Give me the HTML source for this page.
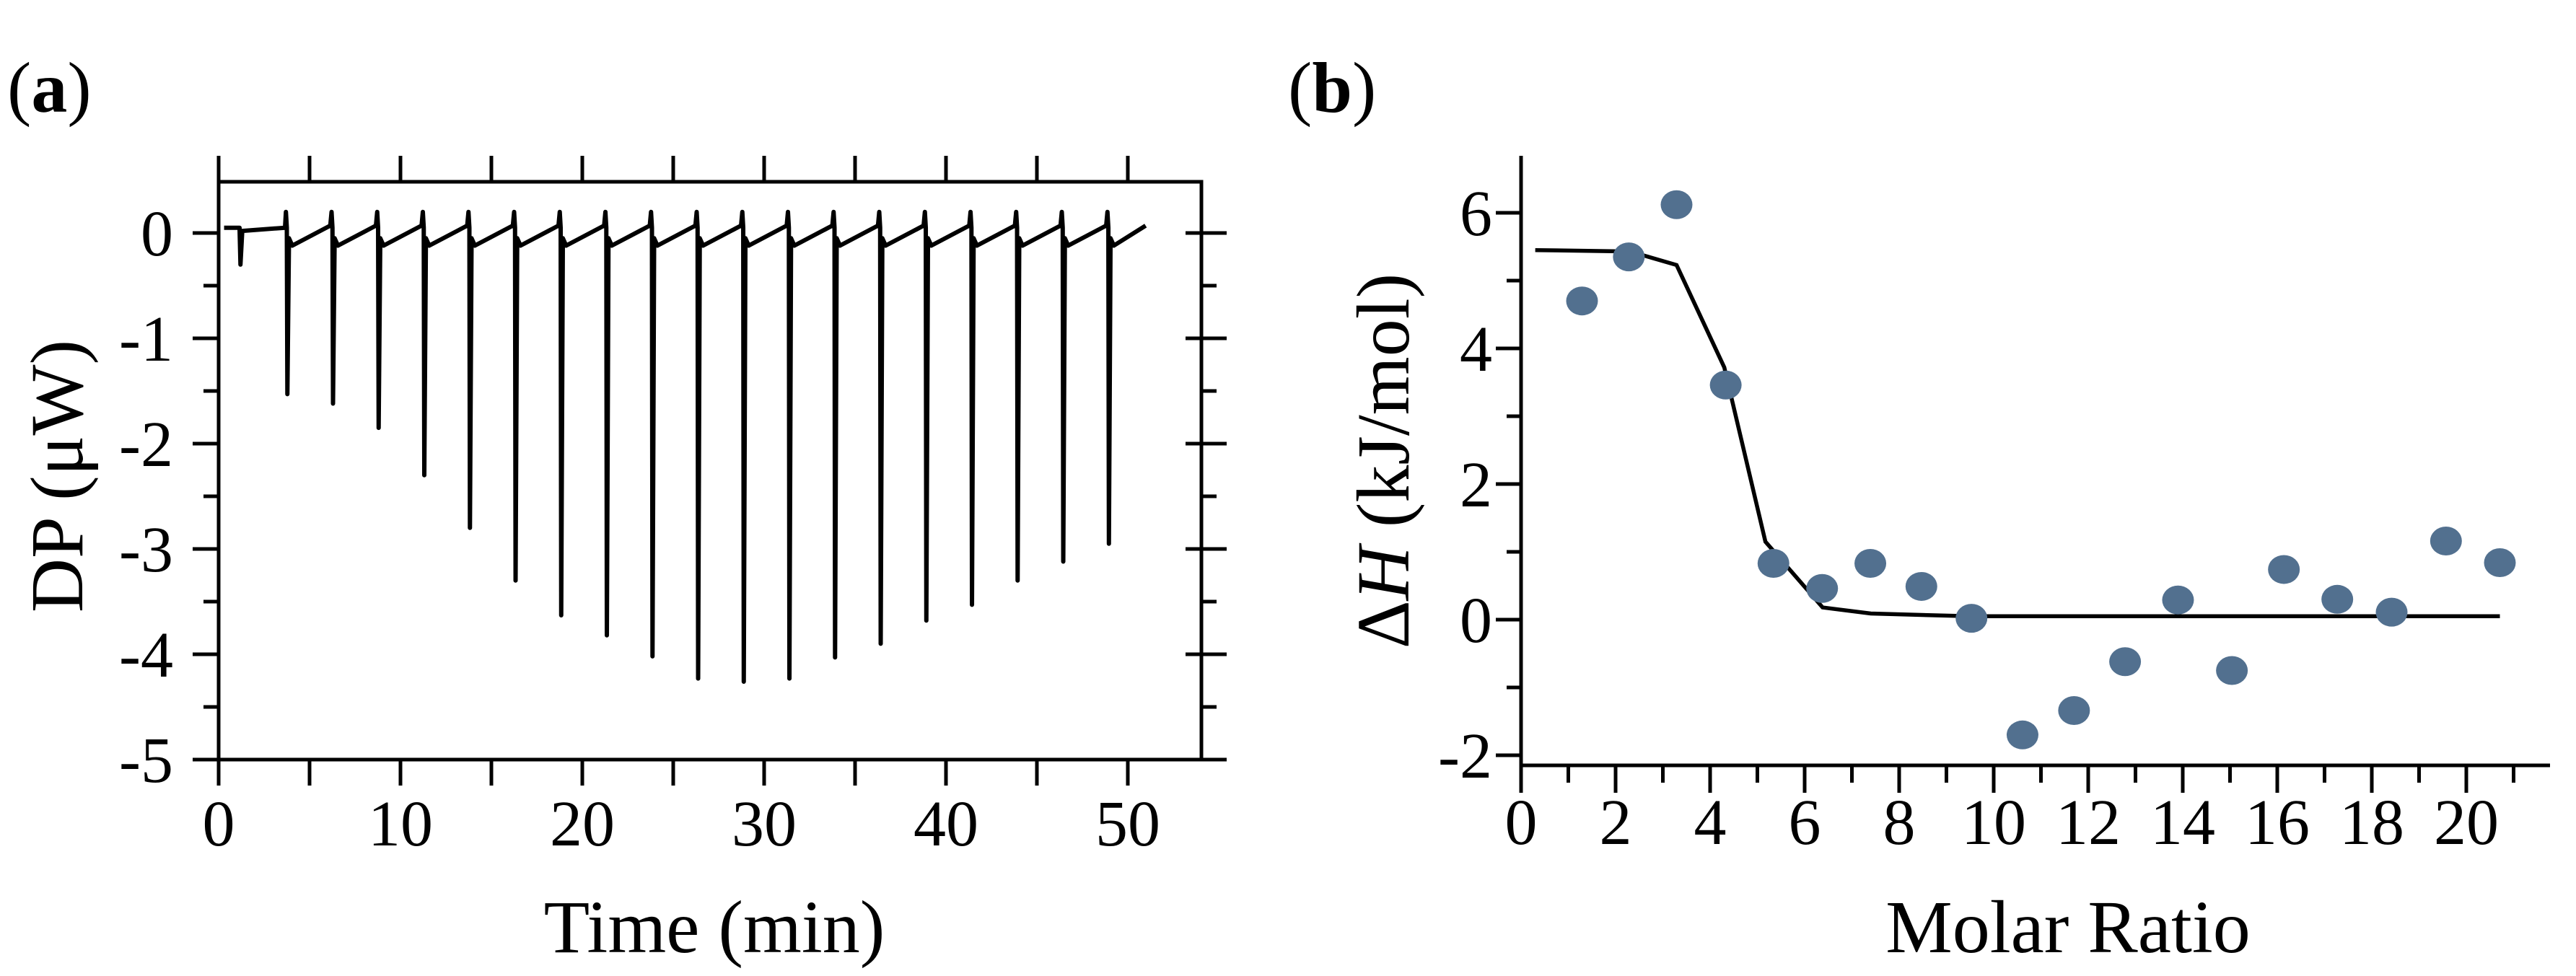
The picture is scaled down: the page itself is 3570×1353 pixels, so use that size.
<!DOCTYPE html>
<html><head><meta charset="utf-8"><style>
html,body{margin:0;padding:0;background:#fff;}
svg{display:block;font-family:"Liberation Serif",serif;}
</style></head><body>
<svg id="chart" width="3570" height="1353" viewBox="0 0 3570 1353" xmlns="http://www.w3.org/2000/svg">
<text x="10" y="155" font-size="100">(<tspan font-weight="bold">a</tspan>)</text>
<text x="1785" y="155" font-size="100">(<tspan font-weight="bold">b</tspan>)</text>
<g id="pa"></g>
<g id="pb"></g>
</svg>
<script>
// Panel a data
const injTimes = [3.75,6.26,8.77,11.28,13.79,16.3,18.81,21.32,23.83,26.34,28.85,31.36,33.87,36.38,38.89,41.4,43.91,46.42,48.93];
const injPeaks = [-1.53,-1.62,-1.85,-2.3,-2.8,-3.3,-3.63,-3.82,-4.02,-4.23,-4.26,-4.23,-4.03,-3.9,-3.68,-3.53,-3.3,-3.12,-2.95];
const firstInjTime = 1.2, firstInjPeak = -0.3, endTime = 51.1;
const aXTicks = [0,10,20,30,40,50];
const aYTicks = [0,-1,-2,-3,-4,-5];
// Panel b data
const molarRatio = [1.29,2.28,3.29,4.33,5.34,6.37,7.39,8.47,9.53,10.61,11.70,12.78,13.90,15.04,16.14,17.27,18.42,19.57,20.71];
const deltaH = [4.70,5.35,6.12,3.46,0.83,0.46,0.83,0.49,0.02,-1.70,-1.34,-0.62,0.29,-0.75,0.74,0.30,0.11,1.16,0.84];
const fitX = [0.3,2.3,3.29,4.3,5.17,6.38,7.4,9.5,20.71];
const fitY = [5.45,5.43,5.23,3.72,1.15,0.18,0.09,0.05,0.05];
const bXTicks = [0,2,4,6,8,10,12,14,16,18,20];
const bYTicks = [6,4,2,0,-2];

const NS="http://www.w3.org/2000/svg";
function mk(parent,tag,attrs,text){const e=document.createElementNS(NS,tag);for(const k in attrs)e.setAttribute(k,attrs[k]);if(text!==undefined)e.textContent=text;parent.appendChild(e);return e;}

// ---- Panel A ----
const pa=document.getElementById('pa');
const ax=t=>303+t*25.2, ay=v=>323-v*146;
const L=303,R=1665,T=252,B=1053;
let e=mk(pa,'rect',{x:L,y:T,width:R-L,height:B-T,fill:'none',stroke:'#000','stroke-width':5});


for(let t=0;t<=54;t+=5){
  e=mk(pa,'line',{x1:ax(t),x2:ax(t),y1:T,y2:T-36,stroke:'#000','stroke-width':5});
  
  
  e=mk(pa,'line',{x1:ax(t),x2:ax(t),y1:B,y2:B+36,stroke:'#000','stroke-width':5});
  
  
}
aXTicks.forEach(t=>{
  e=mk(pa,'text',{x:ax(t),y:1172,'font-size':90,'text-anchor':'middle'},String(t));
  
  
});
for(let v=0;v>=-5;v-=0.5){
  const maj=Math.abs(v%1)<1e-9;
  e=mk(pa,'line',{x1:R-(maj?22:0),x2:R+(maj?35:21),y1:ay(v),y2:ay(v),stroke:'#000','stroke-width':5});
  
  
  e=mk(pa,'line',{x1:L-(maj?36:21),x2:L,y1:ay(v),y2:ay(v),stroke:'#000','stroke-width':5});
  
  
}
aYTicks.forEach(v=>{
  e=mk(pa,'text',{x:240,y:ay(v)+31,'font-size':90,'text-anchor':'end'},String(v));
  
  
});
// trace
let d=`M${ax(0.3)},${ay(0.05)} L${ax(firstInjTime-0.05)},${ay(0.05)} L${ax(firstInjTime)},${ay(firstInjPeak)} L${ax(firstInjTime+0.1)},${ay(0.02)} L${ax(injTimes[0]-0.1)},${ay(0.05)}`;
injTimes.forEach((t,i)=>{
  const next=i<injTimes.length-1?injTimes[i+1]:endTime;
  d+=` L${ax(t-0.05)},${ay(0.2)} L${ax(t)},${ay(0.05)} L${ax(t+0.03)},${ay(injPeaks[i])} L${ax(t+0.12)},${ay(-0.05)} L${ax(t+0.3)},${ay(-0.12)} L${ax(next-0.12)},${ay(0.07)}`;
});
e=mk(pa,'path',{d:d,fill:'none',stroke:'#000','stroke-width':6,'stroke-linejoin':'round'});


e=mk(pa,'text',{x:990,y:1320,'font-size':104,'text-anchor':'middle'},'Time (min)');


e=mk(pa,'text',{x:0,y:0,'font-size':104,'text-anchor':'middle',transform:'translate(114,660) rotate(-90)'},'DP (μW)');



// ---- Panel B ----
const pb=document.getElementById('pb');
const bx=v=>2108+v*65.5, by=v=>859-v*94;
const BL=2108,BB=1061;
e=mk(pb,'line',{x1:BL,x2:BL,y1:216,y2:BB+38,stroke:'#000','stroke-width':5});


e=mk(pb,'line',{x1:BL,x2:3534,y1:BB,y2:BB,stroke:'#000','stroke-width':5});


for(let v=1;v<=21;v++){
  const maj=v%2===0;
  e=mk(pb,'line',{x1:bx(v),x2:bx(v),y1:BB,y2:BB+(maj?38:24),stroke:'#000','stroke-width':5});
  
  
}
bXTicks.forEach(v=>{
  e=mk(pb,'text',{x:bx(v),y:1170,'font-size':90,'text-anchor':'middle'},String(v));
  
  
});
for(let v=-2;v<=6;v++){
  const maj=v%2===0;
  e=mk(pb,'line',{x1:BL-(maj?35:20),x2:BL,y1:by(v),y2:by(v),stroke:'#000','stroke-width':5});
  
  
}
bYTicks.forEach(v=>{
  e=mk(pb,'text',{x:2068,y:by(v)+31,'font-size':90,'text-anchor':'end'},String(v));
  
  
});
e=mk(pb,'polyline',{points:fitX.map((x,i)=>bx(x)+','+by(fitY[i])).join(' '),fill:'none',stroke:'#000','stroke-width':5.5});


molarRatio.forEach((x,i)=>{
  const c=mk(pb,'ellipse',{cx:bx(x),cy:by(deltaH[i]),rx:22,ry:20,fill:'#52708f'});
  
  
});
e=mk(pb,'text',{x:2866,y:1320,'font-size':104,'text-anchor':'middle'},'Molar Ratio');


e=mk(pb,'text',{x:0,y:0,'font-size':104,'text-anchor':'middle',transform:'translate(1952,639) rotate(-90)'});


e.innerHTML='Δ<tspan font-style="italic">H</tspan> (kJ/mol)';
</script>
</body></html>
